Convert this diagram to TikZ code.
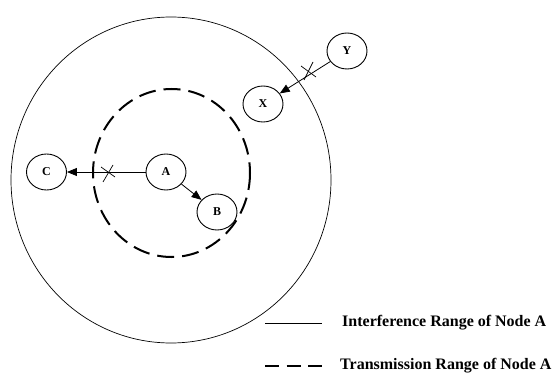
\documentclass[tikz,border=0pt]{standalone}
\usepackage{fontspec}
\setmainfont{Liberation Serif}
\usetikzlibrary{arrows.meta}
\tikzset{
  nodeell/.style={draw, ellipse, line width=0.9pt, minimum width=40pt, minimum height=36pt, inner sep=0pt, font=\fontsize{12}{13}\selectfont\bfseries},
  thinring/.style={line width=0.7pt},
  dashring/.style={line width=2pt, dash pattern=on 17pt off 8pt},
  arr/.style={line width=0.8pt, -{Triangle[length=10pt,width=8pt]}},
  crossmark/.style={line width=0.7pt},
  legtext/.style={anchor=west, font=\fontsize{16}{18}\selectfont\bfseries, inner sep=0pt}
}
\usetikzlibrary{shapes.geometric}
\begin{document}
\begin{tikzpicture}[x=1pt,y=-1pt]
\useasboundingbox (0,0) rectangle (556,379);
% rings
\draw[thinring] (171,180) ellipse [x radius=160, y radius=163];
\draw[dashring] (171.5,173) ellipse [x radius=78.5, y radius=84];
% nodes
\node[nodeell] (A) at (166,172) {A};
\node[nodeell] (B) at (217,212) {B};
\node[nodeell] (C) at (46.5,172) {C};
\node[nodeell] (X) at (263,104) {X};
\node[nodeell] (Y) at (347,51) {Y};
% connectors
\draw[arr] (A) -- (C);
\draw[arr] (A) -- (B);
\draw[arr] (Y) -- (X);
% cross marks
\draw[crossmark] (101,167) -- (115,177);
\draw[crossmark] (103,182) -- (113,165);
\draw[crossmark] (301,66) -- (316,77);
\draw[crossmark] (304,80) -- (313,62);
% legend
\coordinate (l1a) at (265,323);
\coordinate (l1b) at (322,323);
\coordinate (l2a) at (265,366);
\coordinate (l2b) at (322,366);
\draw[line width=0.7pt] (l1a) -- (l1b);
\draw[line width=2pt, dash pattern=on 14pt off 7.5pt] (l2a) -- (l2b);
\node[legtext] (t1) at (342,323) {Interference Range of Node A};
\node[legtext] (t2) at (340,366) {Transmission Range of Node A};
\end{tikzpicture}
\end{document}
